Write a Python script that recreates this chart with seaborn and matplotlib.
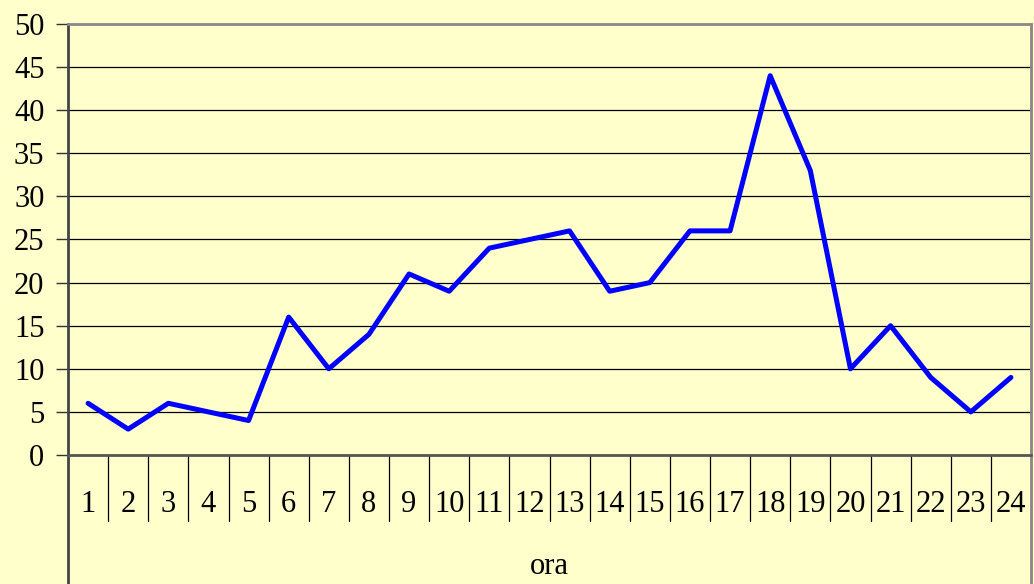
import matplotlib
matplotlib.use("Agg")
import matplotlib.pyplot as plt
import matplotlib.transforms as mtransforms
import numpy as np
import pandas as pd
import seaborn as sns

hours = [str(h) for h in range(1, 25)]
values = [6, 3, 6, 5, 4, 16, 10, 14, 21, 19, 24, 25, 26, 19, 20, 26, 26, 44, 33, 10, 15, 9, 5, 9]
y_ticks = list(range(0, 51, 5))

BG = "#FFFFCC"

sns.set_theme(style="white")
plt.rcParams["font.family"] = ["Liberation Serif", "DejaVu Serif"]
plt.rcParams["text.color"] = "black"
plt.rcParams["xtick.color"] = "black"
plt.rcParams["ytick.color"] = "black"
plt.rcParams["axes.labelcolor"] = "black"

df = pd.DataFrame({"ora": np.arange(len(hours)), "val": values})

fig = plt.figure(figsize=(10.34, 5.84), dpi=100, facecolor=BG)
ax = fig.add_axes([68 / 1034, (584 - 455) / 584, (1031 - 68) / 1034, (455 - 24) / 584])
ax.set_facecolor(BG)

for yv in y_ticks[1:-1]:
    ax.axhline(yv, color="black", lw=0.9, zorder=1)

sns.lineplot(data=df, x="ora", y="val", ax=ax, color="#0000FF", lw=3.6, zorder=3)

ax.set_ylim(0, 50)
ax.set_xlim(-0.5, len(hours) - 0.5)
ax.set_yticks(y_ticks)
ax.set_yticklabels([str(v) for v in y_ticks], fontsize=22)
ax.tick_params(axis="y", direction="out", length=9, width=1, color="#333333", pad=8, left=True)
ax.set_xticks(np.arange(len(hours)))
ax.set_xticklabels(hours, fontsize=22)
ax.tick_params(axis="x", length=0, pad=25)
ax.set_xlabel("ora", fontsize=22, labelpad=24)
ax.set_ylabel("")

ax.spines["top"].set_color("#888888")
ax.spines["top"].set_linewidth(2)
ax.spines["bottom"].set_color("#555555")
ax.spines["bottom"].set_linewidth(2)
ax.spines["left"].set_visible(False)
ax.spines["right"].set_visible(False)

# category separators below the axis
trans = mtransforms.blended_transform_factory(ax.transData, ax.transAxes)
sep_depth = -(521 - 455) / (455 - 24)
for k in range(len(hours) - 1):
    ax.plot([k + 0.5, k + 0.5], [0, sep_depth], transform=trans, color="black",
            lw=0.9, clip_on=False, zorder=2)

# left and right borders running to the bottom of the figure
bottom = -(584 - 455) / (455 - 24)
ax.plot([0, 0], [bottom, 1], transform=ax.transAxes, color="#444444", lw=2, clip_on=False)
ax.plot([1, 1], [bottom, 1], transform=ax.transAxes, color="#888888", lw=2, clip_on=False)

fig.savefig("out.png", dpi=100, facecolor=BG)
